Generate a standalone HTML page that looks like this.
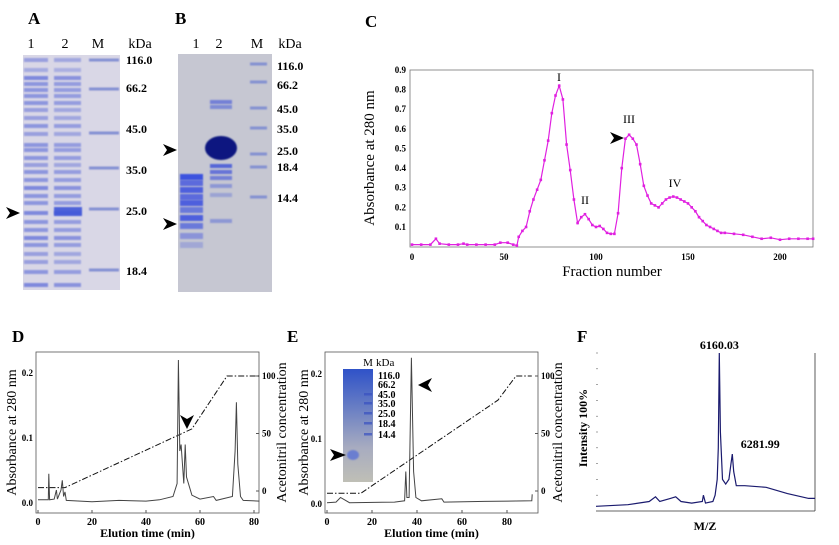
<!DOCTYPE html>
<html><head><meta charset="utf-8"><style>
html,body{margin:0;padding:0;background:#fff;}
svg{display:block;font-family:"Liberation Serif",serif;}
.b{font-weight:bold;}
</style></head><body>
<svg id="fig" width="839" height="545" viewBox="0 0 839 545">
<defs>
<filter id="bl" x="-20%" y="-50%" width="140%" height="200%"><feGaussianBlur stdDeviation="0.9"/></filter>
<linearGradient id="insetg" x1="0" y1="0" x2="0" y2="1">
<stop offset="0" stop-color="#2f52c8"/><stop offset="0.35" stop-color="#6a7fc4"/><stop offset="0.7" stop-color="#a8acc0"/><stop offset="1" stop-color="#bfbfb6"/></linearGradient>
</defs>
<g>
<text x="28" y="24" font-size="17" class="b">A</text>
<text x="31" y="48" font-size="14" text-anchor="middle">1</text>
<text x="65" y="48" font-size="14" text-anchor="middle">2</text>
<text x="98" y="48" font-size="14" text-anchor="middle">M</text>
<text x="140" y="48" font-size="14" text-anchor="middle">kDa</text>
<rect x="23" y="55" width="97" height="235" fill="#d9d7e6"/>
<g id="gelA"></g>
<g font-size="12" class="b">
<text x="126" y="64">116.0</text><text x="126" y="92">66.2</text><text x="126" y="133">45.0</text>
<text x="126" y="174">35.0</text><text x="126" y="215">25.0</text><text x="126" y="275">18.4</text></g>
<polygon points="6,207 20,213 6,219 10,213" fill="#000"/>
</g>
<g>
<text x="175" y="24" font-size="17" class="b">B</text>
<text x="196" y="48" font-size="14" text-anchor="middle">1</text>
<text x="219" y="48" font-size="14" text-anchor="middle">2</text>
<text x="257" y="48" font-size="14" text-anchor="middle">M</text>
<text x="290" y="48" font-size="14" text-anchor="middle">kDa</text>
<rect x="178" y="54" width="94" height="238" fill="#c6c7d2"/>
<g id="gelB"></g>
<g font-size="12" class="b">
<text x="277" y="70">116.0</text><text x="277" y="89">66.2</text><text x="277" y="113">45.0</text>
<text x="277" y="133">35.0</text><text x="277" y="155">25.0</text><text x="277" y="171">18.4</text><text x="277" y="202">14.4</text></g>
<polygon points="163,144 177,150 163,156 167,150" fill="#000"/>
<polygon points="163,218 177,224 163,230 167,224" fill="#000"/>
</g>
<g id="panelC"><text x="365" y="27" font-size="17" class="b">C</text></g>
<g id="panelD"><text x="12" y="342" font-size="17" class="b">D</text></g>
<g id="panelE"><text x="287" y="342" font-size="17" class="b">E</text></g>
<g id="panelF"><text x="577" y="342" font-size="17" class="b">F</text></g>
</svg>
<script>
// ---- Panel C data ----
const cFractions=[0,5,10,13,15,20,25,28,30,35,40,45,48,52,55,57,58,60,62,64,66,68,70,72,74,76,78,80,82,84,86,88,90,92,94,96,98,100,102,104,106,108,110,112,114,116,118,120,122,124,126,128,130,132,134,136,138,140,142,144,146,148,150,152,154,156,158,160,162,164,166,168,170,175,180,185,190,195,200,205,210,215,218];
const cAbsorbance=[0.01,0.01,0.01,0.04,0.015,0.01,0.01,0.015,0.01,0.01,0.01,0.01,0.02,0.02,0.01,0.005,0.05,0.08,0.1,0.18,0.24,0.29,0.34,0.44,0.54,0.68,0.77,0.82,0.75,0.52,0.39,0.24,0.12,0.15,0.165,0.14,0.11,0.1,0.105,0.09,0.07,0.065,0.065,0.17,0.4,0.55,0.57,0.55,0.52,0.42,0.31,0.26,0.22,0.21,0.2,0.22,0.24,0.25,0.255,0.25,0.24,0.23,0.22,0.2,0.18,0.15,0.13,0.11,0.1,0.09,0.08,0.07,0.07,0.065,0.06,0.05,0.04,0.045,0.035,0.04,0.04,0.04,0.04];
const cXTicks=[0,50,100,150,200];
const cYTicks=[0.1,0.2,0.3,0.4,0.5,0.6,0.7,0.8,0.9];
// ---- Panel D data ----
const dTimes=[0,3.8,4,4.3,6,6.8,7.2,8.5,9,9.5,10,10.5,20,30,40,45,50,51.5,52,52.5,53,54,54.5,55,57,60,65,66,72,73,73.5,74,75,76,82];
const dAbs=[0.005,0.005,0.045,0.005,0.006,0.02,0.006,0.02,0.035,0.01,0.017,0.004,0.002,0.004,0.003,0.005,0.01,0.03,0.22,0.08,0.09,0.03,0.09,0.04,0.012,0.006,0.01,0.004,0.01,0.08,0.155,0.06,0.01,0.004,0.003];
const dGradT=[0,10,57,70,82];
const dGradPct=[3,3,54,100,100];
// ---- Panel E data ----
const eTimes=[0,4,6,8,10,30,34.5,35,35.5,36.5,37.5,38.5,39.5,42,51,52,70,91,91.2];
const eAbs=[0.002,0.003,0.01,0.006,0.002,0.003,0.005,0.05,0.01,0.01,0.225,0.05,0.01,0.005,0.008,0.003,0.004,0.005,0.015];
const eGradT=[0,15,76,84,91];
const eGradPct=[-2,-2,79,100,100];
const xTicksDE=[0,20,40,60,80];
const yTicksDE=[0,0.1,0.2];
const yTickLabelsDE=["0.0","0.1","0.2"];
const rTicks=[0,50,100];
// ---- Panel F data ----
const fMz=[5000,5300,5500,5560,5600,5700,5750,5800,5900,6000,6010,6030,6100,6120,6140,6150,6160,6170,6190,6220,6250,6270,6282,6295,6320,6400,6600,6800,7000,7060];
const fInt=[3,4,6,9,6,8,9,6,5,6,10,5,6,10,20,40,100,50,20,17,20,30,36,25,16,16,15,11,8,8];
const fPeakLabels=["6160.03","6281.99"];
const fPeakMz=[6160,6282];

const NS="http://www.w3.org/2000/svg";
function mk(parent,tag,attrs,txt){const e=document.createElementNS(NS,tag);for(const k in attrs)e.setAttribute(k,attrs[k]);if(txt!==undefined)e.textContent=txt;parent.appendChild(e);return e;}
function lin(d0,d1,r0,r1){return v=>r0+(v-d0)/(d1-d0)*(r1-r0);}

// ---- Gels ----
const gA=document.getElementById('gelA');
const aBands=[[60,.5],[70,.4],[78,.7],[84,.6],[90,.6],[96,.6],[103,.6],[110,.5],[118,.5],[126,.6],[134,.5],[145,.6],[150,.6],[158,.6],[165,.5],[172,.6],[180,.6],[188,.7],[196,.6],[203,.6],[213,.7],[222,.6],[230,.6],[238,.7],[245,.6],[254,.5],[262,.5],[272,.6],[285,.7]];
aBands.forEach(b=>{
 const r1=mk(gA,'rect',{x:24,y:b[0]-2,width:24,height:4,fill:'#5a6ad8','fill-opacity':b[1],filter:'url(#bl)'});
 
 const r2=mk(gA,'rect',{x:54,y:b[0]-2,width:27,height:4,fill:'#5a6ad8','fill-opacity':b[1]*0.9,filter:'url(#bl)'});
 
});
const aMain=mk(gA,'rect',{x:54,y:207,width:28,height:9,fill:'#3f55d8','fill-opacity':0.9,filter:'url(#bl)'});

[60,89,133,168,209,270].forEach(y=>{const r=mk(gA,'rect',{x:89,y:y-1.5,width:30,height:3,fill:'#6a78cc','fill-opacity':0.75,filter:'url(#bl)'});
 });
const gB=document.getElementById('gelB');
[[177,.9],[183,.7],[190,.8],[197,.7],[203,.8],[210,.6],[218,.8],[226,.6],[236,.4],[245,.25]].forEach(b=>{
 const r=mk(gB,'rect',{x:180,y:b[0]-3,width:23,height:6,fill:'#2f45e0','fill-opacity':b[1],filter:'url(#bl)'});
 });
const blob=mk(gB,'ellipse',{cx:221,cy:148,rx:16,ry:12,fill:'#0b1580',filter:'url(#bl)'});

[[102,.6],[107,.5],[166,.8],[172,.7],[178,.6],[186,.4],[195,.3],[221,.4]].forEach(b=>{
 const r=mk(gB,'rect',{x:210,y:b[0]-2,width:22,height:4,fill:'#3a50d8','fill-opacity':b[1],filter:'url(#bl)'});
 });
[64,82,108,128,154,167,197].forEach(y=>{const r=mk(gB,'rect',{x:250,y:y-1.5,width:17,height:3,fill:'#6a7ad0','fill-opacity':0.7,filter:'url(#bl)'});
 });

// ---- Panel C ----
(function(){
const g=document.getElementById('panelC');
const x=lin(0,200,412,780), y=lin(0,0.9,246.6,70);
const fr=mk(g,'rect',{x:410,y:70,width:403,height:177,fill:'none',stroke:'#777','stroke-width':0.8});

cXTicks.forEach(t=>{const e=mk(g,'text',{x:x(t),y:260,'font-size':9,'text-anchor':'middle',class:'b'},t);
 });
cYTicks.forEach(t=>{const e=mk(g,'text',{x:406,y:y(t)+3,'font-size':9,'text-anchor':'end',class:'b'},t.toFixed(1));
 });
let e=mk(g,'text',{x:612,y:276,'font-size':15,'text-anchor':'middle'},'Fraction number');

e=mk(g,'text',{x:0,y:0,'font-size':15,'text-anchor':'middle',transform:'translate(374,158) rotate(-90)'},'Absorbance at 280 nm');

const pts=cFractions.map((f,i)=>x(f).toFixed(1)+','+y(cAbsorbance[i]).toFixed(1)).join(' ');
const line=mk(g,'polyline',{points:pts,fill:'none',stroke:'#e020e0','stroke-width':1.2});

cFractions.forEach((f,i)=>{const p=mk(g,'rect',{x:x(f)-1.3,y:y(cAbsorbance[i])-1.3,width:2.6,height:2.6,fill:'#e020e0'});
 });
[['I',559,81],['II',585,204],['III',629,123],['IV',675,187]].forEach(l=>{const t=mk(g,'text',{x:l[1],y:l[2],'font-size':12,'text-anchor':'middle'},l[0]);
 });
const ar=mk(g,'polygon',{points:'610,132 624,138 610,144 614,138',fill:'#000'});

})();

// ---- Panels D & E ----
function hplc(id,box,xd,yZero,yPerUnit,rZero,r100,times,abs,gt,gp,xticks,titleX,rTitleX){
const g=document.getElementById(id);
const x=lin(xd[0],xd[1],xd[2],xd[3]);
const y=v=>yZero-v*yPerUnit;
const r=lin(0,100,rZero,r100);
const fr=mk(g,'rect',{x:box[0],y:box[1],width:box[2]-box[0],height:box[3]-box[1],fill:'none',stroke:'#555','stroke-width':0.8});

xticks.forEach(t=>{const e=mk(g,'text',{x:x(t),y:box[3]+12,'font-size':10,'text-anchor':'middle',class:'b'},t);
 
 const tk=mk(g,'line',{x1:x(t),x2:x(t),y1:box[3],y2:box[3]-3,stroke:'#555'});
 });
yTicksDE.forEach((t,i)=>{const e=mk(g,'text',{x:box[0]-3,y:y(t)+3,'font-size':9,'text-anchor':'end',class:'b'},yTickLabelsDE[i]);
 });
rTicks.forEach(t=>{const e=mk(g,'text',{x:box[2]+3,y:r(t)+3,'font-size':9,class:'b'},t);
 
 const tk=mk(g,'line',{x1:box[2],x2:box[2]-3,y1:r(t),y2:r(t),stroke:'#555'});
 });
let e=mk(g,'text',{x:(box[0]+box[2])/2,y:box[3]+24,'font-size':12,'text-anchor':'middle',class:'b'},'Elution time (min)');

e=mk(g,'text',{x:0,y:0,'font-size':14,'text-anchor':'middle',transform:`translate(${titleX},${(box[1]+box[3])/2}) rotate(-90)`},'Absorbance at 280 nm');

e=mk(g,'text',{x:0,y:0,'font-size':14,'text-anchor':'middle',transform:`translate(${rTitleX},${(box[1]+box[3])/2}) rotate(-90)`},'Acetonitril concentration');

const gl=mk(g,'polyline',{points:gt.map((t,i)=>x(t).toFixed(1)+','+r(gp[i]).toFixed(1)).join(' '),fill:'none',stroke:'#111','stroke-width':1,'stroke-dasharray':'6,2,1.5,2'});

const tr=mk(g,'polyline',{points:times.map((t,i)=>x(t).toFixed(1)+','+y(abs[i]).toFixed(1)).join(' '),fill:'none',stroke:'#444','stroke-width':1});

return g;}
const gD=hplc('panelD',[36,352,259,513],[0,80,38,254],503,650,491,376,dTimes,dAbs,dGradT,dGradPct,xTicksDE,16,286);
let a=mk(gD,'polygon',{points:'180,415 187,429 194,415 187,419',fill:'#000'});

const gE=hplc('panelE',[325,352,538,513],[0,80,327,507],504,650,491,376,eTimes,eAbs,eGradT,eGradPct,xTicksDE,308,562);
a=mk(gE,'polygon',{points:'432,378 418,385 432,392 428,385',fill:'#000'});

// inset gel
const ig=mk(gE,'rect',{x:343,y:369,width:30,height:113,fill:'url(#insetg)'});

const ib=mk(gE,'ellipse',{cx:353,cy:455,rx:6,ry:5,fill:'#6a7ed0',filter:'url(#bl)'});

[[375,'116.0'],[384,'66.2'],[394,'45.0'],[403,'35.0'],[413,'25.0'],[423,'18.4'],[434,'14.4']].forEach((m,i)=>{
 const t=mk(gE,'text',{x:378,y:m[0]+4,'font-size':10,class:'b'},m[1]);
 
 if(i>1){const b=mk(gE,'rect',{x:364,y:m[0]-1,width:8,height:2.5,fill:'#3850c0','fill-opacity':0.7});
 }});
let t=mk(gE,'text',{x:368,y:366,'font-size':11,'text-anchor':'middle'},'M');
t=mk(gE,'text',{x:376,y:366,'font-size':11},'kDa');
a=mk(gE,'polygon',{points:'330,449 346,455 330,461 334,455',fill:'#000'});


// ---- Panel F ----
(function(){
const g=document.getElementById('panelF');
const x=lin(5000,7060,596,815), y=lin(0,100,511,353);
let l=mk(g,'line',{x1:596,x2:815,y1:511,y2:511,stroke:'#333','stroke-width':0.8});
l=mk(g,'line',{x1:815,x2:815,y1:353,y2:511,stroke:'#333','stroke-width':0.8});
for(let i=0;i<=10;i++){const tk=mk(g,'line',{x1:596,x2:598,y1:y(i*10),y2:y(i*10),stroke:'#666','stroke-width':0.6});
 }
let e=mk(g,'text',{x:705,y:530,'font-size':12,'text-anchor':'middle',class:'b'},'M/Z');

e=mk(g,'text',{x:0,y:0,'font-size':12,'text-anchor':'middle',class:'b',transform:'translate(587,428) rotate(-90)'},'Intensity 100%');

const sp=mk(g,'polyline',{points:fMz.map((m,i)=>x(m).toFixed(1)+','+y(fInt[i]).toFixed(1)).join(' '),fill:'none',stroke:'#1a1a6e','stroke-width':1.2});

const off=[[0,-4],[28,-6]];
fPeakMz.forEach((m,i)=>{const idx=fMz.indexOf(m);const p=mk(g,'text',{x:x(m)+off[i][0],y:y(fInt[idx])+off[i][1],'font-size':12,'text-anchor':'middle',class:'b'},fPeakLabels[i]);
 });
})();
</script>
</body></html>
